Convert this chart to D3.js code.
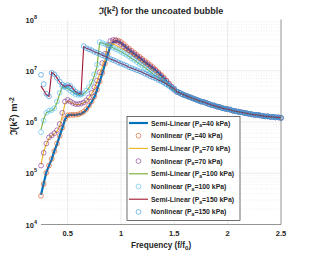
<!DOCTYPE html>
<html>
<head>
<meta charset="utf-8">
<script src="https://cdn.jsdelivr.net/npm/d3@7"></script>
<style>
  body { margin: 0; background: #fff; }
  svg { display: block; }
  text { font-family: "Liberation Sans", Arial, sans-serif; fill: #262626; }
</style>
</head>
<body>
<svg width="312" height="254"></svg>
<script>
// frequency grid (f/f0), values are log10 of Im(k^2)
const freq = d3.range(91).map(i => 0.25 + 0.025 * i);

// shared tail for f = 1.525 .. 2.5 where all curves coincide
const tail = [6.59, 6.57, 6.54, 6.52, 6.50, 6.48, 6.46, 6.44, 6.42, 6.40,
  6.39, 6.37, 6.35, 6.33, 6.32, 6.30, 6.29, 6.27, 6.26, 6.25,
  6.24, 6.22, 6.21, 6.20, 6.19, 6.18, 6.17, 6.16, 6.15, 6.14,
  6.14, 6.13, 6.12, 6.11, 6.11, 6.10, 6.10, 6.09, 6.09, 6.08];

// f = 0.25 .. 1.5
const semi40 = [4.58, 4.80, 5.02, 5.15, 5.27, 5.43, 5.57, 5.73, 5.88, 6.05,
  6.13, 6.14, 6.14, 6.14, 6.15, 6.16, 6.19, 6.24, 6.31, 6.39,
  6.48, 6.62, 6.78, 6.95, 7.13, 7.32, 7.47, 7.55, 7.58, 7.57,
  7.54, 7.50, 7.45, 7.41, 7.37, 7.33, 7.29, 7.25, 7.21, 7.17,
  7.13, 7.09, 7.05, 7.01, 6.96, 6.91, 6.86, 6.80, 6.74, 6.68, 6.63];
const nonlin40 = [4.56, 4.79, 5.01, 5.15, 5.28, 5.43, 5.58, 5.73, 5.89, 6.06,
  6.13, 6.14, 6.14, 6.14, 6.15, 6.17, 6.20, 6.25, 6.32, 6.40,
  6.50, 6.63, 6.79, 6.96, 7.14, 7.33, 7.48, 7.56, 7.60, 7.59,
  7.56, 7.52, 7.47, 7.43, 7.39, 7.35, 7.31, 7.27, 7.23, 7.19,
  7.15, 7.11, 7.07, 7.02, 6.97, 6.92, 6.87, 6.81, 6.75, 6.69, 6.63];
const semi70 = [5.17, 5.42, 5.57, 5.68, 5.73, 5.77, 5.82, 5.92, 6.12, 6.36,
  6.41, 6.39, 6.36, 6.34, 6.34, 6.35, 6.37, 6.41, 6.47, 6.55,
  6.66, 6.79, 6.94, 7.08, 7.20, 7.55, 7.54, 7.52, 7.50, 7.47,
  7.44, 7.41, 7.38, 7.35, 7.31, 7.28, 7.24, 7.20, 7.16, 7.12,
  7.08, 7.04, 7.00, 6.96, 6.92, 6.87, 6.83, 6.78, 6.73, 6.68, 6.63];
const nonlin70 = [5.15, 5.40, 5.58, 5.70, 5.74, 5.78, 5.84, 5.96, 6.18, 6.40,
  6.43, 6.40, 6.37, 6.35, 6.35, 6.36, 6.38, 6.42, 6.48, 6.57,
  6.68, 6.81, 6.97, 7.15, 7.33, 7.50, 7.58, 7.60, 7.59, 7.56,
  7.52, 7.48, 7.44, 7.40, 7.36, 7.32, 7.28, 7.24, 7.20, 7.16,
  7.12, 7.08, 7.04, 7.00, 6.95, 6.90, 6.85, 6.80, 6.74, 6.68, 6.63];
const semi100 = [5.85, 6.05, 6.18, 6.21, 6.22, 6.26, 6.38, 6.55, 6.68, 6.68,
  6.65, 6.62, 6.58, 6.55, 6.53, 6.53, 6.55, 6.60, 6.67, 6.76,
  6.90, 7.08, 7.55, 7.54, 7.52, 7.50, 7.48, 7.45, 7.42, 7.40,
  7.37, 7.34, 7.31, 7.28, 7.24, 7.21, 7.17, 7.13, 7.10, 7.06,
  7.02, 6.98, 6.94, 6.90, 6.86, 6.82, 6.78, 6.74, 6.70, 6.66, 6.62];
const nonlin100 = [5.80, 6.03, 6.18, 6.22, 6.23, 6.27, 6.40, 6.57, 6.69, 6.68,
  6.65, 6.61, 6.57, 6.54, 6.53, 6.53, 6.56, 6.61, 6.68, 6.78,
  6.93, 7.12, 7.56, 7.54, 7.52, 7.50, 7.48, 7.45, 7.42, 7.40,
  7.37, 7.34, 7.31, 7.28, 7.24, 7.21, 7.17, 7.13, 7.10, 7.06,
  7.02, 6.98, 6.94, 6.90, 6.86, 6.82, 6.78, 6.74, 6.70, 6.66, 6.62];
const semi150 = [6.70, 6.62, 6.53, 6.50, 6.97, 6.93, 6.86, 6.78, 6.72, 6.69,
  6.72, 6.71, 6.65, 6.59, 6.56, 6.55, 7.47, 7.44, 7.42, 7.40,
  7.37, 7.35, 7.33, 7.30, 7.28, 7.26, 7.23, 7.21, 7.19, 7.16,
  7.14, 7.12, 7.10, 7.07, 7.05, 7.03, 7.01, 6.99, 6.97, 6.94,
  6.92, 6.89, 6.87, 6.85, 6.82, 6.80, 6.77, 6.74, 6.71, 6.68, 6.65];
const nonlin150 = [6.92, 6.74, 6.55, 6.50, 6.96, 6.93, 6.86, 6.79, 6.73, 6.70,
  6.72, 6.70, 6.64, 6.59, 6.56, 6.55, 7.48, 7.44, 7.42, 7.40,
  7.37, 7.35, 7.33, 7.30, 7.28, 7.26, 7.23, 7.21, 7.19, 7.16,
  7.14, 7.12, 7.10, 7.07, 7.05, 7.03, 7.01, 6.99, 6.97, 6.94,
  6.92, 6.89, 6.87, 6.85, 6.82, 6.80, 6.77, 6.74, 6.71, 6.68, 6.65];

const labels = ["Semi-Linear", "Nonlinear", "Semi-Linear", "Nonlinear",
  "Semi-Linear", "Nonlinear", "Semi-Linear", "Nonlinear"];
const pressures = ["40", "40", "70", "70", "100", "100", "150", "150"];
const colors = ["#0072BD", "#D95319", "#EDB120", "#7E2F8E", "#77AC30", "#4DBEEE", "#A2142F", "#2f8fd8"];
const heads = [semi40, nonlin40, semi70, nonlin70, semi100, nonlin100, semi150, nonlin150];

const xTicks = [0.5, 1, 1.5, 2, 2.5];
const yTicks = [1e4, 1e5, 1e6, 1e7, 1e8];

const svg = d3.select("svg");
const x = d3.scaleLinear().domain([0.25, 2.5]).range([41, 281]);
const y = d3.scaleLog().domain([1e4, 1e8]).range([224.5, 19.5]);

// grid
const minor = [];
[1e4, 1e5, 1e6, 1e7].forEach(d => { for (let k = 2; k < 10; k++) minor.push(d * k); });
svg.append("g").selectAll("line").data(minor).enter().append("line")
  .attr("x1", 41).attr("x2", 281)
  .attr("y1", d => y(d)).attr("y2", d => y(d))
  .attr("stroke", "#e4e4e4").attr("stroke-width", 0.6).attr("stroke-dasharray", "1,1.5");
svg.append("g").selectAll("line").data(yTicks.slice(1, 4)).enter().append("line")
  .attr("x1", 41).attr("x2", 281)
  .attr("y1", d => y(d)).attr("y2", d => y(d))
  .attr("stroke", "#e2e2e2").attr("stroke-width", 0.7);
svg.append("g").selectAll("line").data(xTicks.slice(0, 4)).enter().append("line")
  .attr("x1", d => x(d)).attr("x2", d => x(d))
  .attr("y1", 19.5).attr("y2", 224.5)
  .attr("stroke", "#e2e2e2").attr("stroke-width", 0.7);

// curves
const series = heads.map((h, i) => ({
  i: i,
  nonlinear: i % 2 === 1,
  color: colors[i],
  pts: h.concat(tail).map((v, j) => [freq[j], Math.pow(10, v)])
}));

const line = d3.line().x(d => x(d[0])).y(d => y(d[1]));

series.forEach(s => {
  if (s.nonlinear) {
    svg.append("g").selectAll("circle").data(s.pts).enter().append("circle")
      .attr("cx", d => x(d[0])).attr("cy", d => y(d[1])).attr("r", 2.4)
      .attr("fill", "none").attr("stroke", s.color).attr("stroke-width", 0.6);
  } else {
    svg.append("path").datum(s.pts).attr("d", line)
      .attr("fill", "none").attr("stroke", s.color)
      .attr("stroke-width", s.i === 0 ? 2.2 : 1.1);
  }
});

// axes box (bottom and right)
svg.append("line").attr("x1", 41).attr("x2", 281).attr("y1", 224.5).attr("y2", 224.5)
  .attr("stroke", "#7a7a7a").attr("stroke-width", 0.8);
svg.append("line").attr("x1", 281).attr("x2", 281).attr("y1", 19.5).attr("y2", 224.5)
  .attr("stroke", "#7a7a7a").attr("stroke-width", 0.8);

// tick labels
svg.append("g").selectAll("text").data(xTicks).enter().append("text")
  .attr("x", d => x(d)).attr("y", 236)
  .attr("text-anchor", "middle").attr("font-size", 7.5).attr("font-weight", "bold")
  .text(d => d);

const yl = svg.append("g").selectAll("text").data(yTicks).enter().append("text")
  .attr("x", 37).attr("y", d => y(d) + 3)
  .attr("text-anchor", "end").attr("font-size", 7.5).attr("font-weight", "bold");
yl.append("tspan").text("10");
yl.append("tspan").attr("dy", -4).attr("font-size", 5.5).text(d => Math.round(Math.log10(d)));

// title
const title = svg.append("text").attr("x", 161).attr("y", 14)
  .attr("text-anchor", "middle").attr("font-size", 9).attr("font-weight", "bold");
title.append("tspan").text("\u2111(k");
title.append("tspan").attr("dy", -3).attr("font-size", 6.5).text("2");
title.append("tspan").attr("dy", 3).text(") for the uncoated bubble");

// x label
const xl = svg.append("text").attr("x", 161).attr("y", 248)
  .attr("text-anchor", "middle").attr("font-size", 8.2).attr("font-weight", "bold");
xl.append("tspan").text("Frequency (f/f");
xl.append("tspan").attr("dy", 2).attr("font-size", 6).text("0");
xl.append("tspan").attr("dy", -2).text(")");

// y label
const ylab = svg.append("text").attr("transform", "translate(17,116) rotate(-90)")
  .attr("text-anchor", "middle").attr("font-size", 9.5).attr("font-weight", "bold");
ylab.append("tspan").text("\u2111(k");
ylab.append("tspan").attr("dy", -3.5).attr("font-size", 7).text("2");
ylab.append("tspan").attr("dy", 3.5).text(") m");
ylab.append("tspan").attr("dy", -3.5).attr("font-size", 7).text("-2");

// legend
const lg = svg.append("g");
lg.append("rect").attr("x", 127).attr("y", 116.5).attr("width", 113).attr("height", 104)
  .attr("fill", "#fff").attr("stroke", "#333").attr("stroke-width", 0.7);
series.forEach((s, k) => {
  const ry = 123 + k * 12.7;
  if (s.nonlinear) {
    lg.append("circle").attr("cx", 138.5).attr("cy", ry).attr("r", 2.4)
      .attr("fill", "none").attr("stroke", s.color).attr("stroke-width", 0.6);
  } else {
    lg.append("line").attr("x1", 129).attr("x2", 148).attr("y1", ry).attr("y2", ry)
      .attr("stroke", s.color).attr("stroke-width", k === 0 ? 2.2 : 1.1);
  }
  const t = lg.append("text").attr("x", 151).attr("y", ry + 2.5)
    .attr("font-size", 6.9).attr("font-weight", "bold");
  t.append("tspan").text(labels[k] + " (P");
  t.append("tspan").attr("dy", 1.8).attr("font-size", 5).text("a");
  t.append("tspan").attr("dy", -1.8).text("=" + pressures[k] + " kPa)");
});
</script>
</body>
</html>
